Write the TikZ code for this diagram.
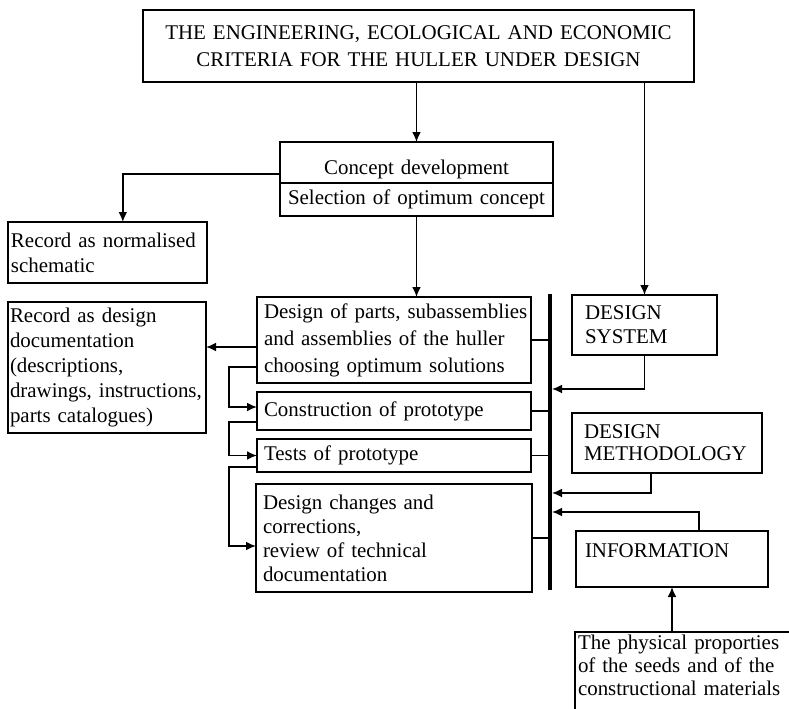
\documentclass[tikz,border=0pt]{standalone}
\usepackage{fontspec}
\setmainfont{Liberation Serif}
\usetikzlibrary{arrows.meta,positioning}

\begin{document}
\begin{tikzpicture}[x=0.75pt,y=0.75pt,yscale=-1,xscale=1,line width=1pt,
  >={Latex[length=7.5pt,width=6.5pt]},
  box/.style={draw,line width=1.3pt,outer sep=0pt,anchor=north west,align=left,inner ysep=0pt,
    font={\fontsize{15.7}{18.75}\selectfont}},
  bar/.style={line width=2.6pt}]
\useasboundingbox (0,0) rectangle (789,708);
\clip (0,0) rectangle (789,708);

% Criteria
\node[box,align=center,minimum width=413.25pt,minimum height=54pt,inner xsep=2pt,text width=409.25pt,
  font={\fontsize{15.7}{20.25}\selectfont}] (crit) at (143,10)
  {THE ENGINEERING, ECOLOGICAL AND ECONOMIC\\CRITERIA FOR THE HULLER UNDER DESIGN\\[2pt]};

% Concept
\node[box,align=center,minimum width=204.75pt,minimum height=30.75pt,inner xsep=2pt,text width=200.75pt,
  text height=17.25pt,text depth=0pt] (conc) at (280,142) {Concept development};
\node[box,align=center,minimum width=204.75pt,minimum height=24.75pt,inner xsep=2pt,text width=200.75pt,
  below=0pt of conc] (sel) {Selection of optimum concept};

% Records
\node[box,minimum width=149.25pt,minimum height=45.75pt,inner xsep=2.25pt,text width=144.75pt] (rec1) at (8,222)
  {Record as normalised\\schematic};
\node[box,minimum width=148.5pt,minimum height=98.25pt,inner xsep=1.5pt,text width=145.5pt] (rec2) at (8,302)
  {Record as design\\documentation\\(descriptions,\\\mbox{drawings, instructions,}\\parts catalogues)};

% Design column
\node[box,minimum width=205.5pt,minimum height=64.5pt,inner xsep=5.25pt,text width=195pt,
  font={\fontsize{15.7}{20.25}\selectfont}] (parts) at (257,297)
  {\mbox{Design of parts, subassemblies}\\and assemblies of the huller\\choosing optimum solutions};
\node[box,minimum width=205.5pt,minimum height=28.5pt,inner xsep=5.25pt,text width=195pt,
  below=6.75pt of parts] (constr) {Construction of prototype};
\node[box,minimum width=205.5pt,minimum height=24.75pt,inner xsep=5.25pt,text width=195pt,
  below=6.75pt of constr] (tests) {Tests of prototype};
\node[box,minimum width=207pt,minimum height=81pt,inner xsep=5.25pt,text width=196.5pt,
  font={\fontsize{15.7}{18pt}\selectfont},below=9pt of tests] (changes)
  {Design changes and\\corrections,\\review of technical\\documentation};

% Right column
\node[box,minimum width=108.75pt,minimum height=45pt,inner xsep=9.75pt,text width=89.25pt,
  font={\fontsize{15.7}{18pt}\selectfont}] (dsys) at (572,295) {DESIGN\\SYSTEM};
\node[box,minimum width=142.5pt,minimum height=45pt,inner xsep=9pt,text width=124.5pt,
  font={\fontsize{15.7}{16.5pt}\selectfont}] (dmeth) at (572,413) {DESIGN\\\mbox{METHODOLOGY}};
\node[box,minimum width=144pt,minimum height=42pt,inner xsep=6.75pt,text width=130.5pt,
  text height=11pt,text depth=14pt] (info) at (576,531) {INFORMATION};
\node[box,inner xsep=2.25pt,inner ysep=0.75pt,text width=175.5pt,text height=12pt,text depth=50pt,
  font={\fontsize{15.7}{17.25}\selectfont}] (phys) at (575,632)
  {The physical proporties\\of the seeds and of the\\constructional materials};

% Bar
\coordinate (bartop) at (550,294);
\coordinate (barbot) at (550,590);
\draw[bar] (bartop) -- (barbot);
\coordinate (sysin) at (552,389);
\coordinate (methin) at (552,493);
\coordinate (infoin) at (552,512);

% Connectors
\draw[->] (crit.south -| conc.north) -- (conc.north);
\draw[->] (crit.south -| dsys.north) -- (dsys.north);
\draw[->] ([yshift=8.6pt]conc.west) -| ([xshift=11.5pt]rec1.north);
\draw[->] (sel.south) -- (sel.south |- parts.north);
\draw[->] ([yshift=5.25pt]parts.west) -- ([yshift=5.25pt]rec2.east |- parts.west);
\draw[->] ([yshift=20.25pt]parts.west) -- ++(-28,0) |- ([yshift=-3pt]constr.west);
\draw[->] ([yshift=8.25pt]constr.west) -- ++(-28,0) |- (tests.west);
\draw[->] ([yshift=8.6pt]tests.west) -- ++(-28,0) |- ([yshift=6pt]changes.west);

\draw (parts.east) -- (parts.east -| bartop);
\draw (constr.east) -- (constr.east -| bartop);
\draw (tests.east) -- (tests.east -| bartop);
\draw (changes.east) -- (changes.east -| bartop);

\draw[->] (dsys.south) |- (sysin);
\draw[->] ([xshift=-12pt]dmeth.south) |- (methin);
\draw[->] ([xshift=20.25pt]info.north) |- (infoin);
\draw[->] (phys.north -| info.south) -- (info.south);

\end{tikzpicture}
\end{document}
